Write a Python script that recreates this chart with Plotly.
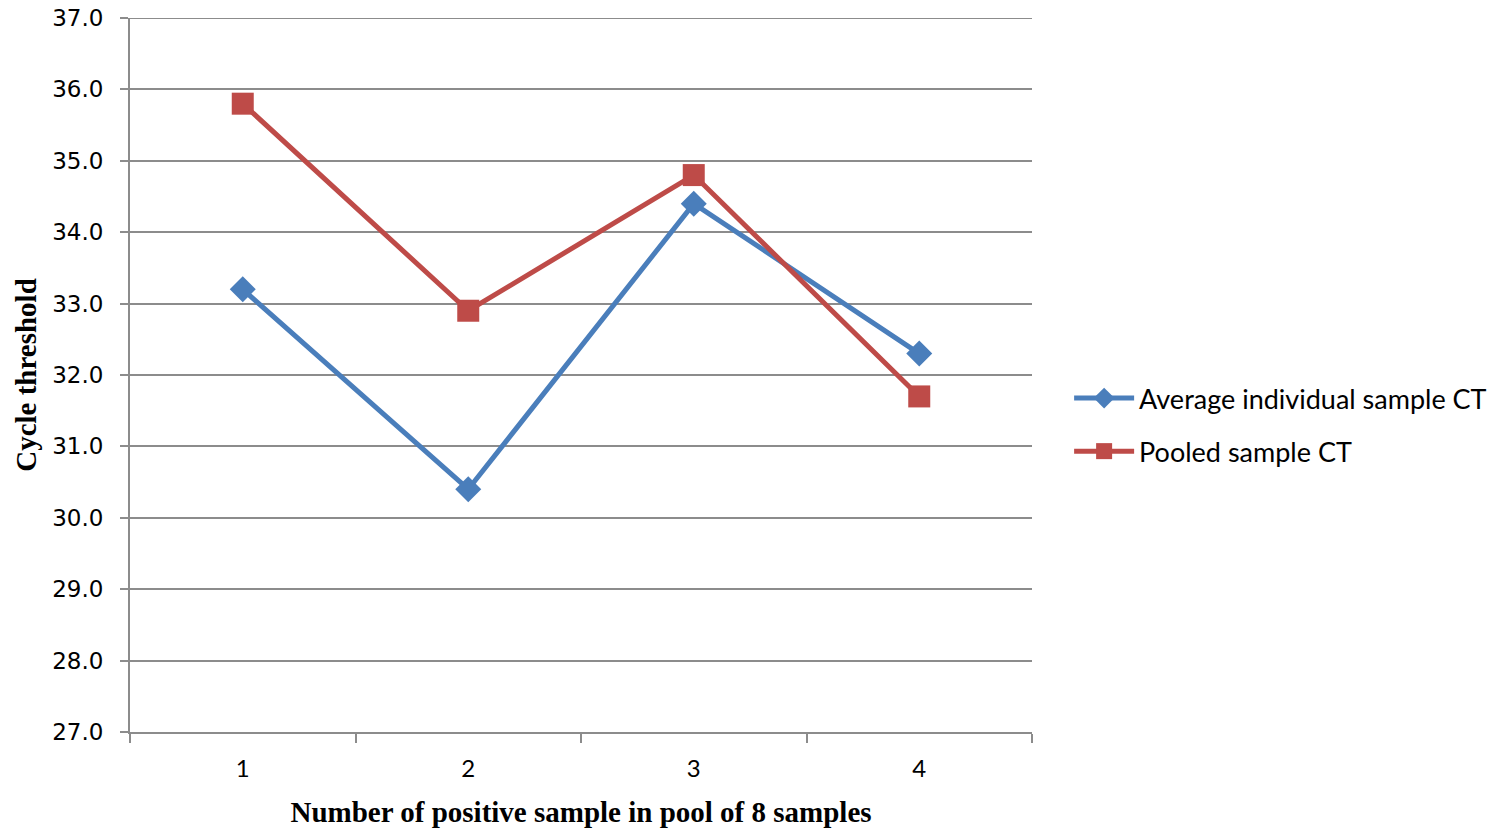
import plotly.graph_objects as go

categories = ["1", "2", "3", "4"]
avg_individual_ct = [33.2, 30.4, 34.4, 32.3]
pooled_ct = [35.8, 32.9, 34.8, 31.7]
y_ticks = [27.0, 28.0, 29.0, 30.0, 31.0, 32.0, 33.0, 34.0, 35.0, 36.0, 37.0]

blue = "#4A7EBB"
red = "#BE4B48"
grid = "#8C8C8C"

fig = go.Figure()
fig.add_trace(go.Scatter(
    x=categories, y=avg_individual_ct, mode="lines+markers",
    name="Average individual sample CT", legendgroup="a",
    line=dict(color=blue, width=5),
    marker=dict(symbol="diamond", size=20, color=blue),
))
fig.add_trace(go.Scatter(
    x=categories, y=pooled_ct, mode="lines+markers",
    name="Pooled sample CT", legendgroup="b",
    line=dict(color=red, width=5),
    marker=dict(symbol="square", size=22, color=red),
))

# top gridline (plotly omits the gridline on the plot edge)
fig.add_shape(type="line", xref="paper", yref="y", x0=0, x1=1,
              y0=y_ticks[-1], y1=y_ticks[-1], line=dict(color=grid, width=2), layer="below")

fig.update_layout(
    width=1503, height=833,
    margin=dict(l=130, r=470, t=18, b=101),
    plot_bgcolor="white", paper_bgcolor="white",
    legend=dict(
        x=1.04, y=0.43, xanchor="left", yanchor="middle",
        font=dict(family="Lato, Open Sans, sans-serif", size=27, color="black"),
        tracegroupgap=15, itemwidth=60,
        bgcolor="rgba(0,0,0,0)",
    ),
    xaxis=dict(
        type="category", automargin=False, range=[-0.5, 3.5],
        tickson="boundaries", ticks="outside", ticklen=9, tickcolor=grid, tickwidth=2,
        showline=True, linecolor=grid, linewidth=2,
        showgrid=False, ticklabelstandoff=14,
        tickfont=dict(family="Lato, Open Sans, sans-serif", size=24, color="black"),
        title=dict(text="<b>Number of positive sample in pool of 8 samples</b>",
                   font=dict(family="Liberation Serif, Times New Roman, serif", size=29, color="black"),
                   standoff=21),
    ),
    yaxis=dict(
        range=[27, 37], tickvals=y_ticks, tickformat=".1f", automargin=False,
        ticks="outside", ticklen=8, tickcolor=grid, tickwidth=2,
        showline=True, linecolor=grid, linewidth=2,
        showgrid=True, gridcolor=grid, gridwidth=2,
        zeroline=False, ticklabelstandoff=12, ticklabeloverflow="allow",
        tickfont=dict(family="DejaVu Sans, sans-serif", size=23, color="black"),
        title=dict(text="<b>Cycle threshold</b>",
                   font=dict(family="Liberation Serif, Times New Roman, serif", size=29, color="black"),
                   standoff=7),
    ),
)

fig.write_html("out.html", config={"displayModeBar": False},
               post_script="document.body.style.margin='0';")
